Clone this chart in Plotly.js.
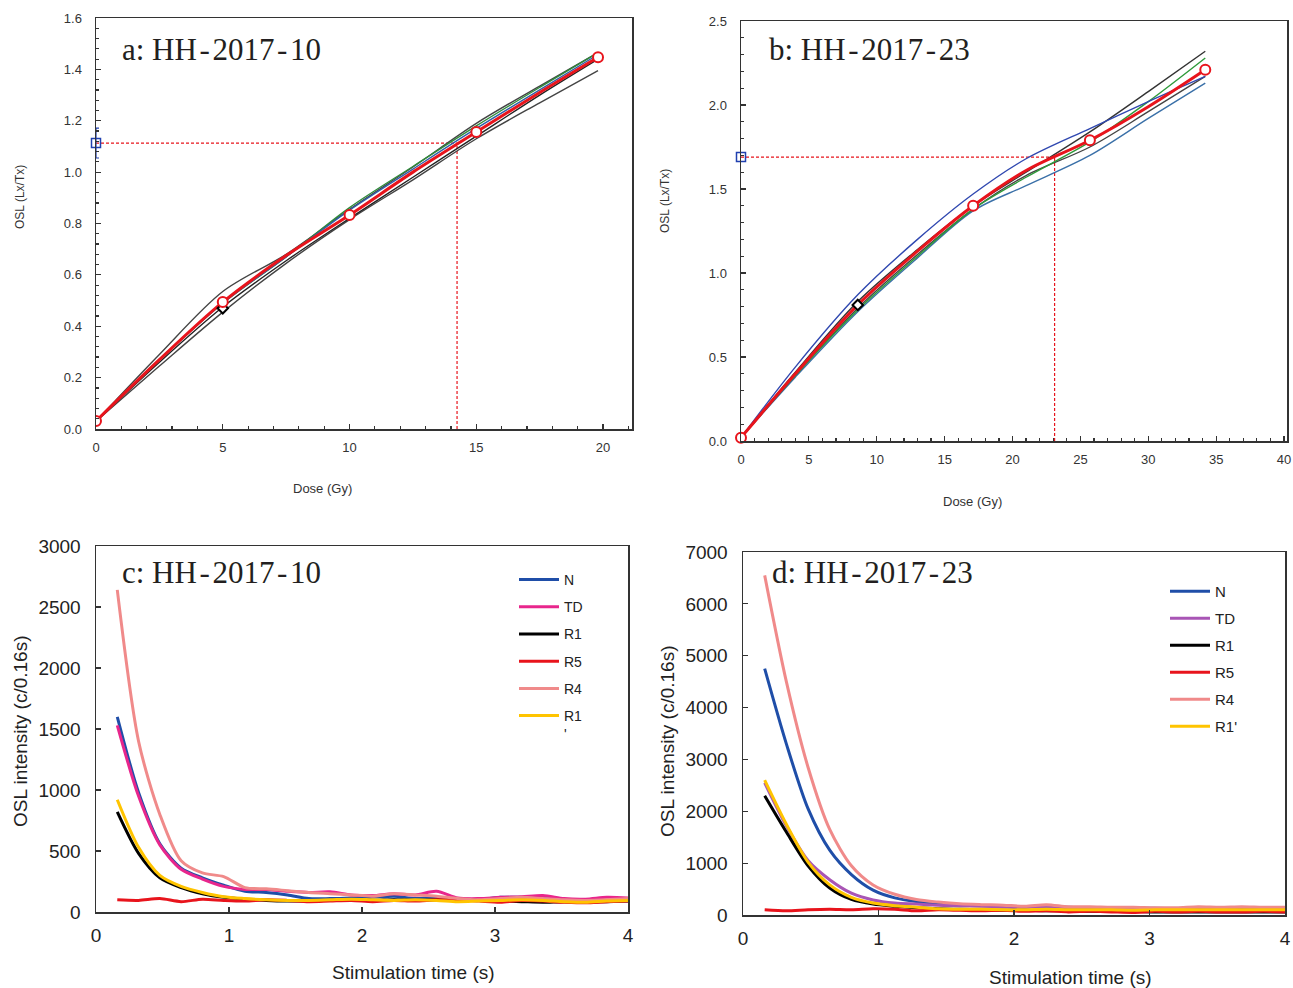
<!DOCTYPE html>
<html><head><meta charset="utf-8">
<script src="https://cdn.plot.ly/plotly-3.0.1.min.js"></script>
<style>html,body{margin:0;padding:0;background:#fff;} #chart{width:1293px;height:988px;}</style>
</head><body><div id="chart"></div>
<script>
// ---------- Panel a: HH-2017-10 dose response ----------
const doseA = [0, 2.5, 5, 7.5, 10, 12.5, 15, 17.5, 19.8];
const aFit = [0.031, 0.27, 0.494, 0.675, 0.833, 1.0, 1.156, 1.31, 1.447];
const aGrayUpper = [0.03, 0.29, 0.535, 0.68, 0.855, 1.02, 1.19, 1.335, 1.465];
const aGrayLower = [0.03, 0.245, 0.455, 0.645, 0.815, 0.97, 1.13, 1.27, 1.395];
const aGrayMid = [0.03, 0.26, 0.475, 0.655, 0.82, 0.98, 1.14, 1.30, 1.44];
const aGreen = [0.03, 0.27, 0.49, 0.67, 0.862, 1.022, 1.18, 1.33, 1.465];
const aBlue = [0.03, 0.27, 0.49, 0.67, 0.852, 1.012, 1.17, 1.32, 1.458];
const aPtsX = [0, 5, 10, 15, 19.8];
const aPtsY = [0.031, 0.494, 0.833, 1.156, 1.447];
const aRecX = [5], aRecY = [0.47];
const aNat = 1.113, aNatErr = 0.058, aDe = 14.24;

// ---------- Panel b: HH-2017-23 dose response ----------
const doseB = [0, 4, 8.6, 13, 17.1, 21, 25.7, 30, 34.2];
const bFit = [0.02, 0.40, 0.81, 1.13, 1.40, 1.61, 1.79, 1.99, 2.21];
const bRoyal = [0.02, 0.44, 0.87, 1.20, 1.47, 1.68, 1.86, 2.02, 2.17];
const bGrayUpper = [0.02, 0.41, 0.83, 1.14, 1.40, 1.60, 1.84, 2.08, 2.32];
const bGreen = [0.02, 0.39, 0.78, 1.10, 1.38, 1.57, 1.78, 2.02, 2.28];
const bGrayLower = [0.02, 0.39, 0.79, 1.11, 1.38, 1.58, 1.75, 1.96, 2.17];
const bTeal = [0.02, 0.38, 0.77, 1.09, 1.37, 1.52, 1.70, 1.92, 2.13];
const bPtsX = [0, 17.1, 25.7, 34.2];
const bPtsY = [0.02, 1.40, 1.79, 2.21];
const bRecX = [8.6], bRecY = [0.81];
const bNat = 1.69, bDe = 23.1;

// ---------- Panels c/d: OSL decay curves ----------
const tC = [0.16,0.32,0.48,0.64,0.80,0.96,1.12,1.28,1.44,1.60,1.76,1.92,2.08,2.24,2.40,2.56,2.72,2.88,3.04,3.20,3.36,3.52,3.68,3.84,4.00];
const seriesNames = ['N', 'TD', 'R1', 'R5', 'R4', "R1'"];
const cN  = [1600,980,560,360,280,220,170,160,140,110,110,115,120,130,110,120,100,100,120,120,110,100,100,95,100];
const cTD = [1530,950,550,350,270,210,185,185,170,160,165,140,135,150,140,170,115,110,120,125,135,110,105,120,115];
const cR1 = [820,480,280,200,150,120,105,95,90,90,95,100,95,100,95,100,105,95,90,85,80,85,80,85,90];
const cR5 = [100,95,110,85,105,95,90,100,95,85,90,95,85,95,90,100,100,90,80,95,90,80,75,85,90];
const cR4 = [2640,1400,800,420,320,290,200,190,175,160,150,140,130,150,140,130,110,100,110,120,110,100,95,100,110];
const cR1p = [920,530,300,210,160,125,110,100,95,95,100,105,100,95,100,95,85,90,95,100,95,85,80,90,95];

const dN  = [4750,3300,2050,1250,780,480,330,260,220,195,180,170,160,170,150,140,130,130,130,120,110,110,110,110,110];
const dTD = [2550,1720,1050,680,420,290,230,210,190,180,170,160,150,170,140,130,130,120,120,110,110,110,100,100,100];
const dR1 = [2300,1600,950,520,300,210,170,140,120,110,100,90,90,80,80,70,70,70,60,60,60,60,60,60,60];
const dR5 = [100,80,100,110,100,120,110,80,100,90,80,90,70,80,60,70,60,50,70,60,70,60,60,70,60];
const dR4 = [6550,4500,2850,1650,950,580,400,300,250,215,200,190,170,200,160,160,150,150,140,140,160,150,160,150,150];
const dR1p = [2600,1750,1020,580,340,230,180,150,120,110,110,100,100,110,100,100,100,90,100,100,100,100,100,100,100];

const colC = ['#1f4ea8', '#e8268c', '#000000', '#e8141c', '#f08a8a', '#ffc400'];
const colD = ['#1f4ea8', '#a855b5', '#000000', '#e8141c', '#f08a8a', '#ffc400'];

const SANS = 'Liberation Sans, Arial, sans-serif';
const SERIF = 'Liberation Serif, Times New Roman, serif';
const traces = [];

function curve(x, y, color, width, xa, ya) {
  traces.push({type:'scatter', mode:'lines', x:x, y:y, xaxis:xa, yaxis:ya, showlegend:false,
    line:{color:color, width:width, shape:'spline', smoothing:0.9}, hoverinfo:'skip'});
}
function dashed(x, y, xa, ya) {
  traces.push({type:'scatter', mode:'lines', x:x, y:y, xaxis:xa, yaxis:ya, showlegend:false,
    line:{color:'#e8141c', width:1.2, dash:'3px,2px'}, hoverinfo:'skip'});
}

// panel a
dashed([0, aDe], [aNat, aNat], 'x', 'y');
dashed([aDe, aDe], [0, aNat], 'x', 'y');
curve(doseA, aGrayLower, '#444444', 1.4, 'x', 'y');
curve(doseA, aGrayUpper, '#444444', 1.4, 'x', 'y');
curve(doseA, aGrayMid, '#222222', 1.4, 'x', 'y');
curve(doseA, aGreen, '#2e8b3a', 1.4, 'x', 'y');
curve(doseA, aBlue, '#2f5fa8', 1.4, 'x', 'y');
curve(doseA, aFit, '#e8141c', 3, 'x', 'y');
traces.push({type:'scatter', mode:'markers', x:aRecX, y:aRecY, xaxis:'x', yaxis:'y', showlegend:false,
  marker:{symbol:'diamond', size:8, color:'#ffffff', line:{color:'#000', width:2}}});
traces.push({type:'scatter', mode:'markers', x:aPtsX, y:aPtsY, xaxis:'x', yaxis:'y', showlegend:false,
  marker:{symbol:'circle', size:10, color:'#ffffff', line:{color:'#e8141c', width:2}}});
traces.push({type:'scatter', mode:'markers', x:[0], y:[aNat], xaxis:'x', yaxis:'y', showlegend:false,
  error_y:{type:'data', array:[aNatErr], color:'#2040b0', thickness:1.2, width:3},
  marker:{symbol:'square-open', size:9, color:'#2040b0', line:{width:1.5}}, cliponaxis:false});

// panel b
dashed([0, bDe], [bNat, bNat], 'x2', 'y2');
dashed([bDe, bDe], [0, bNat], 'x2', 'y2');
curve(doseB, bTeal, '#3a70a8', 1.4, 'x2', 'y2');
curve(doseB, bGrayLower, '#444444', 1.4, 'x2', 'y2');
curve(doseB, bGreen, '#2e9a3a', 1.4, 'x2', 'y2');
curve(doseB, bGrayUpper, '#333333', 1.4, 'x2', 'y2');
curve(doseB, bRoyal, '#3048b0', 1.4, 'x2', 'y2');
curve(doseB, bFit, '#e8141c', 3, 'x2', 'y2');
traces.push({type:'scatter', mode:'markers', x:bRecX, y:bRecY, xaxis:'x2', yaxis:'y2', showlegend:false,
  marker:{symbol:'diamond', size:8, color:'#ffffff', line:{color:'#000', width:2}}});
traces.push({type:'scatter', mode:'markers', x:bPtsX, y:bPtsY, xaxis:'x2', yaxis:'y2', showlegend:false,
  marker:{symbol:'circle', size:10, color:'#ffffff', line:{color:'#e8141c', width:2}}, cliponaxis:false});
traces.push({type:'scatter', mode:'markers', x:[0], y:[bNat], xaxis:'x2', yaxis:'y2', showlegend:false,
  marker:{symbol:'square-open', size:9, color:'#2040b0', line:{width:1.5}}, cliponaxis:false});

// panels c, d
const cData = [cN, cTD, cR1, cR5, cR4, cR1p];
const dData = [dN, dTD, dR1, dR5, dR4, dR1p];
const cLegendNames = ['N', 'TD', 'R1', 'R5', 'R4', "R1<br>'"];
cData.forEach((ys, i) => traces.push({type:'scatter', mode:'lines', x:tC, y:ys, xaxis:'x3', yaxis:'y3',
  name:cLegendNames[i], legend:'legend', legendgroup:'c'+i, line:{color:colC[i], width:3, shape:'spline', smoothing:0.8}}));
dData.forEach((ys, i) => traces.push({type:'scatter', mode:'lines', x:tC, y:ys, xaxis:'x4', yaxis:'y4',
  name:seriesNames[i], legend:'legend2', legendgroup:'d'+i, line:{color:colD[i], width:3, shape:'spline', smoothing:0.8}}));

const W = 1293, H = 988;
const px = v => v / W, py = v => 1 - v / H;

function axBase(extra) {
  return Object.assign({showline:true, linecolor:'#333', linewidth:1.5, mirror:true, showgrid:false, zeroline:false,
    ticks:'inside', tickcolor:'#333', ticklen:5, tickwidth:1.2, fixedrange:true}, extra);
}
const smallTick = {family:SANS, size:13, color:'#333'};
const bigTick = {family:SANS, size:19, color:'#222'};

const layout = {
  width:W, height:H, margin:{l:0, r:0, t:0, b:0}, paper_bgcolor:'#fff', plot_bgcolor:'#fff',
  showlegend:true,
  xaxis: axBase({domain:[px(96), px(632)], range:[0, 21.14], dtick:5, tick0:0, anchor:'y', tickfont:smallTick, ticklabelstandoff:6,
    minor:{dtick:1, tick0:0, ticks:'inside', ticklen:3, tickcolor:'#333'}}),
  yaxis: axBase({domain:[py(429), py(18)], range:[0, 1.6], dtick:0.2, tickformat:'.1f', anchor:'x', tickfont:smallTick, ticklabelstandoff:10,
    minor:{dtick:0.04, tick0:0, ticks:'inside', ticklen:3, tickcolor:'#333'}}),
  xaxis2: axBase({domain:[px(741), px(1287)], range:[0, 40.22], dtick:5, tick0:0, anchor:'y2', tickfont:smallTick, ticklabelstandoff:6,
    minor:{dtick:1, tick0:0, ticks:'inside', ticklen:3, tickcolor:'#333'}}),
  yaxis2: axBase({domain:[py(441), py(21)], range:[0, 2.5], dtick:0.5, tickformat:'.1f', anchor:'x2', tickfont:smallTick, ticklabelstandoff:10,
    minor:{dtick:0.1, tick0:0, ticks:'inside', ticklen:3, tickcolor:'#333'}}),
  xaxis3: axBase({domain:[px(96), px(628)], range:[0, 4], dtick:1, anchor:'y3', tickfont:bigTick, ticklabelstandoff:6}),
  yaxis3: axBase({domain:[py(912), py(546)], range:[0, 3000], dtick:500, anchor:'x3', tickfont:bigTick, ticklabelstandoff:10}),
  xaxis4: axBase({domain:[px(743), px(1285)], range:[0, 4], dtick:1, anchor:'y4', tickfont:bigTick, ticklabelstandoff:6}),
  yaxis4: axBase({domain:[py(915), py(552)], range:[0, 7000], dtick:1000, anchor:'x4', tickfont:bigTick, ticklabelstandoff:10}),
  legend: {x:px(514), y:py(564), xanchor:'left', yanchor:'top', bgcolor:'rgba(0,0,0,0)', font:{family:SANS, size:14, color:'#222'},
    traceorder:'grouped', tracegroupgap:6, itemwidth:40, valign:'top', itemclick:false, itemdoubleclick:false},
  legend2: {x:px(1165), y:py(575), xanchor:'left', yanchor:'top', bgcolor:'rgba(0,0,0,0)', font:{family:SANS, size:15, color:'#222'},
    traceorder:'grouped', tracegroupgap:4.5, itemwidth:40, valign:'top', itemclick:false, itemdoubleclick:false},
  annotations: [
    {text:'a: HH\u200a-\u200a2017\u200a-\u200a10', x:px(120), y:py(50)},
    {text:'b: HH\u200a-\u200a2017\u200a-\u200a23', x:px(767), y:py(50)},
    {text:'c: HH\u200a-\u200a2017\u200a-\u200a10', x:px(120), y:py(572)},
    {text:'d: HH\u200a-\u200a2017\u200a-\u200a23', x:px(770), y:py(572)}
  ].map(a => Object.assign({xref:'paper', yref:'paper', xanchor:'left', yanchor:'middle', showarrow:false,
    font:{family:SERIF, size:31, color:'#231f20'}}, a)).concat([
    {text:'Dose (Gy)', x:px(322), y:py(489), font:{family:SANS, size:13, color:'#333'}},
    {text:'OSL (Lx/Tx)', x:px(20), y:py(197), textangle:-90, font:{family:SANS, size:12, color:'#333'}},
    {text:'Dose (Gy)', x:px(972), y:py(501), font:{family:SANS, size:13, color:'#333'}},
    {text:'OSL (Lx/Tx)', x:px(665), y:py(201), textangle:-90, font:{family:SANS, size:12, color:'#333'}},
    {text:'Stimulation time (s)', x:px(413), y:py(972), font:{family:SANS, size:19, color:'#222'}},
    {text:'OSL intensity (c/0.16s)', x:px(20), y:py(732), textangle:-90, font:{family:SANS, size:19, color:'#222'}},
    {text:'Stimulation time (s)', x:px(1070), y:py(977), font:{family:SANS, size:19, color:'#222'}},
    {text:'OSL intensity (c/0.16s)', x:px(667), y:py(742), textangle:-90, font:{family:SANS, size:19, color:'#222'}}
  ].map(a => Object.assign({xref:'paper', yref:'paper', xanchor:'center', yanchor:'middle', showarrow:false}, a)))
};

Plotly.newPlot('chart', traces, layout, {staticPlot:true, displayModeBar:false});
</script></body></html>
